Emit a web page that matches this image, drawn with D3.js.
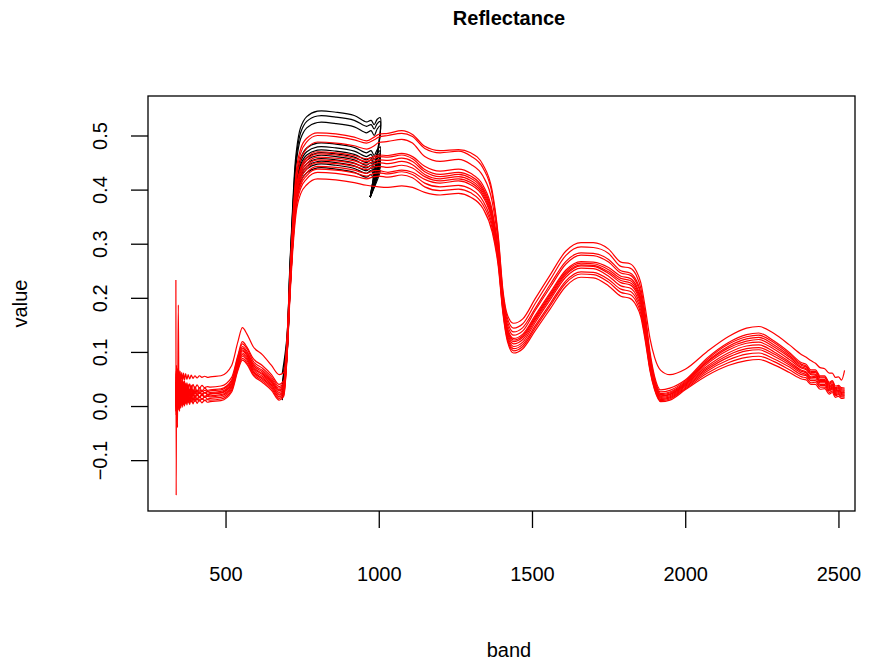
<!DOCTYPE html>
<html>
<head>
<meta charset="utf-8">
<script src="https://cdn.jsdelivr.net/npm/d3@7"></script>
<style>
  body { margin: 0; background: #fff; }
  svg text { font-family: "Liberation Sans", Arial, Helvetica, sans-serif; fill: #000; }
</style>
</head>
<body>
<div id="chart"></div>
<script>
// wavelengths (nm) shared by the corrected (red) spectra
const bands = [338,339,340,341,342,343,344,346,348,350,352,354,357,360,363,366,370,374,378,383,388,394,400,407,415,423,432,441,450,
  485,520,540,555,570,590,620,650,675,690,700,710,720,730,745,765,800,860,920,960,985,1000,
  1030,1075,1110,1150,1200,1260,1300,1340,1370,1390,1405,1420,1440,1470,1510,1560,1610,1660,1700,1750,1790,1820,1840,1855,1870,1885,1900,1920,1950,2000,
  2070,2140,2200,2240,2290,2340,2380,2395,2410,2425,2440,2455,2470,2480,2490,2500,2510,2520];

// corrected spectra (red)
const r1 = [0.06,0.04,0.075,0.045,0.07,0.038,0.068,0.042,0.066,0.046,0.064,0.044,0.062,0.047,0.061,0.048,0.06,0.049,0.058,0.05,0.057,0.051,0.056,0.052,0.056,0.053,0.055,0.053,0.054,
  0.056,0.075,0.118,0.145,0.133,0.11,0.095,0.075,0.058,0.062,0.12,0.24,0.35,0.43,0.475,0.495,0.505,0.503,0.497,0.49,0.497,0.502,
  0.504,0.509,0.502,0.48,0.472,0.474,0.468,0.446,0.398,0.314,0.215,0.168,0.153,0.161,0.198,0.243,0.286,0.302,0.302,0.29,0.266,0.263,0.25,0.228,0.18,0.125,0.09,0.066,0.058,0.068,
  0.1,0.128,0.144,0.147,0.134,0.113,0.095,0.09,0.084,0.079,0.071,0.069,0.061,0.061,0.053,0.054,0.048,0.066];
const r2 = [0.015,0.065,0.01,0.063,0.017,0.067,0.015,0.057,0.019,0.055,0.021,0.051,0.024,0.048,0.026,0.046,0.028,0.043,0.03,0.041,0.031,0.04,0.032,0.039,0.033,0.038,0.034,0.036,0.035,
  0.037,0.053,0.093,0.119,0.109,0.088,0.075,0.058,0.04,0.047,0.11,0.235,0.345,0.42,0.467,0.488,0.5,0.498,0.492,0.486,0.492,0.497,
  0.5,0.504,0.498,0.476,0.468,0.471,0.462,0.44,0.392,0.31,0.21,0.162,0.144,0.152,0.189,0.234,0.278,0.294,0.293,0.282,0.258,0.255,0.242,0.218,0.168,0.1,0.055,0.03,0.033,0.048,
  0.088,0.117,0.132,0.135,0.12,0.099,0.08,0.077,0.067,0.067,0.056,0.056,0.044,0.047,0.037,0.038,0.034,0.033];
const r3 = [0.045,0.005,0.065,0.01,0.06,0.008,0.058,0.015,0.055,0.012,0.05,0.018,0.048,0.02,0.045,0.022,0.042,0.024,0.04,0.025,0.038,0.026,0.036,0.027,0.034,0.028,0.033,0.029,0.03,
  0.032,0.048,0.09,0.115,0.106,0.083,0.07,0.054,0.036,0.043,0.105,0.23,0.335,0.41,0.455,0.476,0.488,0.486,0.481,0.475,0.481,0.487,
  0.489,0.493,0.486,0.461,0.452,0.456,0.447,0.425,0.378,0.3,0.204,0.156,0.137,0.145,0.18,0.225,0.267,0.283,0.282,0.271,0.25,0.246,0.233,0.21,0.16,0.094,0.05,0.026,0.029,0.046,
  0.085,0.114,0.128,0.131,0.117,0.096,0.077,0.074,0.064,0.064,0.054,0.054,0.042,0.045,0.034,0.036,0.032,0.031];
const r4 = [0.233,-0.165,0.06,-0.01,0.055,-0.005,0.05,0.01,0.048,0.008,0.045,0.014,0.042,0.016,0.04,0.019,0.037,0.021,0.035,0.023,0.033,0.024,0.031,0.025,0.03,0.026,0.029,0.027,0.028,
  0.03,0.046,0.086,0.11,0.101,0.079,0.066,0.05,0.033,0.04,0.1,0.225,0.325,0.398,0.44,0.459,0.47,0.468,0.463,0.457,0.461,0.464,
  0.463,0.467,0.461,0.443,0.434,0.438,0.43,0.408,0.362,0.289,0.196,0.15,0.131,0.139,0.176,0.22,0.262,0.279,0.278,0.266,0.246,0.242,0.229,0.206,0.156,0.09,0.047,0.023,0.026,0.044,
  0.082,0.11,0.124,0.127,0.113,0.093,0.075,0.072,0.062,0.062,0.052,0.052,0.04,0.043,0.032,0.034,0.03,0.029];
const r5 = [0.005,0.055,0.0,0.053,0.007,0.057,0.005,0.047,0.009,0.045,0.011,0.041,0.014,0.038,0.016,0.036,0.018,0.033,0.02,0.031,0.021,0.03,0.022,0.029,0.023,0.028,0.024,0.026,0.025,
  0.027,0.043,0.084,0.107,0.098,0.076,0.063,0.047,0.03,0.037,0.098,0.222,0.322,0.394,0.435,0.454,0.466,0.464,0.458,0.452,0.457,0.461,
  0.46,0.464,0.457,0.437,0.428,0.432,0.425,0.403,0.357,0.285,0.192,0.144,0.125,0.133,0.167,0.21,0.251,0.267,0.266,0.256,0.24,0.236,0.223,0.2,0.15,0.086,0.044,0.021,0.024,0.042,
  0.08,0.107,0.12,0.123,0.109,0.09,0.072,0.069,0.06,0.059,0.049,0.049,0.038,0.04,0.03,0.032,0.028,0.027];
const r6 = [0.04,0.0,0.058,-0.03,0.05,-0.04,0.045,0.005,0.044,0.006,0.04,0.012,0.038,0.013,0.036,0.016,0.033,0.018,0.031,0.019,0.029,0.02,0.028,0.021,0.026,0.022,0.025,0.022,0.023,
  0.025,0.041,0.081,0.104,0.095,0.073,0.06,0.045,0.028,0.035,0.096,0.22,0.32,0.39,0.43,0.448,0.46,0.458,0.453,0.447,0.452,0.455,
  0.454,0.458,0.452,0.433,0.424,0.428,0.421,0.399,0.353,0.282,0.19,0.141,0.122,0.13,0.164,0.207,0.248,0.264,0.263,0.252,0.236,0.232,0.219,0.196,0.146,0.083,0.042,0.019,0.022,0.04,
  0.077,0.103,0.116,0.118,0.105,0.086,0.07,0.067,0.058,0.057,0.047,0.047,0.036,0.038,0.028,0.03,0.026,0.025];
const r7 = [0.037,-0.003,0.057,0.002,0.052,0.0,0.05,0.007,0.047,0.004,0.042,0.01,0.04,0.012,0.037,0.014,0.034,0.016,0.032,0.017,0.03,0.018,0.028,0.019,0.026,0.02,0.025,0.021,0.022,
  0.024,0.04,0.079,0.102,0.093,0.071,0.058,0.043,0.025,0.032,0.094,0.217,0.317,0.385,0.425,0.443,0.455,0.453,0.448,0.442,0.447,0.45,
  0.448,0.452,0.446,0.428,0.42,0.424,0.417,0.395,0.349,0.279,0.188,0.139,0.119,0.127,0.161,0.204,0.245,0.261,0.26,0.248,0.232,0.228,0.215,0.192,0.142,0.08,0.04,0.018,0.021,0.04,
  0.073,0.098,0.111,0.113,0.1,0.082,0.066,0.063,0.054,0.055,0.045,0.045,0.034,0.037,0.027,0.029,0.025,0.024];
const r8 = [-0.001,0.049,-0.006,0.047,0.001,0.051,-0.001,0.041,0.003,0.039,0.005,0.035,0.008,0.032,0.01,0.03,0.012,0.027,0.014,0.025,0.015,0.024,0.016,0.023,0.017,0.022,0.018,0.02,0.019,
  0.021,0.037,0.076,0.098,0.09,0.068,0.055,0.04,0.022,0.029,0.092,0.214,0.313,0.38,0.42,0.438,0.45,0.448,0.443,0.437,0.442,0.443,
  0.441,0.445,0.44,0.424,0.416,0.42,0.413,0.391,0.345,0.276,0.186,0.135,0.115,0.123,0.158,0.201,0.242,0.259,0.258,0.245,0.228,0.224,0.211,0.188,0.138,0.077,0.038,0.016,0.019,0.038,
  0.07,0.094,0.106,0.108,0.096,0.079,0.064,0.061,0.052,0.053,0.043,0.043,0.032,0.035,0.025,0.027,0.023,0.022];
const r9 = [0.035,-0.005,0.045,0.0,0.04,-0.006,0.03,0.187,0.0,0.04,0.005,0.035,0.007,0.032,0.009,0.029,0.011,0.027,0.012,0.025,0.013,0.023,0.014,0.021,0.015,0.02,0.016,0.018,0.017,
  0.019,0.035,0.074,0.095,0.087,0.065,0.052,0.038,0.02,0.027,0.09,0.21,0.308,0.374,0.413,0.431,0.443,0.441,0.436,0.43,0.435,0.435,
  0.432,0.436,0.432,0.419,0.412,0.416,0.409,0.387,0.342,0.273,0.183,0.131,0.11,0.118,0.154,0.197,0.238,0.255,0.254,0.24,0.222,0.218,0.205,0.183,0.134,0.074,0.036,0.014,0.017,0.036,
  0.067,0.09,0.102,0.104,0.092,0.076,0.061,0.058,0.05,0.05,0.04,0.04,0.03,0.033,0.023,0.025,0.021,0.02];
const r10 = [0.029,-0.011,0.049,-0.006,0.044,-0.008,0.042,-0.001,0.039,-0.004,0.034,0.002,0.032,0.004,0.029,0.006,0.026,0.008,0.024,0.009,0.022,0.01,0.02,0.011,0.018,0.012,0.017,0.013,0.014,
  0.016,0.032,0.071,0.092,0.084,0.063,0.05,0.035,0.017,0.024,0.088,0.207,0.304,0.369,0.408,0.426,0.438,0.436,0.431,0.425,0.43,0.431,
  0.429,0.433,0.428,0.412,0.405,0.408,0.401,0.379,0.335,0.268,0.179,0.127,0.106,0.114,0.148,0.19,0.231,0.248,0.247,0.234,0.216,0.212,0.199,0.177,0.129,0.071,0.034,0.012,0.015,0.034,
  0.064,0.085,0.096,0.098,0.087,0.072,0.058,0.056,0.047,0.047,0.038,0.038,0.028,0.031,0.021,0.023,0.019,0.019];
const r11 = [-0.009,0.041,-0.014,0.039,-0.007,0.043,-0.009,0.033,-0.005,0.031,-0.003,0.027,0.0,0.024,0.002,0.022,0.004,0.019,0.006,0.017,0.007,0.016,0.008,0.015,0.009,0.014,0.01,0.012,0.011,
  0.013,0.029,0.068,0.088,0.08,0.06,0.047,0.032,0.014,0.021,0.086,0.204,0.3,0.364,0.402,0.42,0.432,0.43,0.425,0.42,0.424,0.425,
  0.423,0.427,0.422,0.405,0.398,0.401,0.394,0.372,0.329,0.263,0.176,0.123,0.102,0.11,0.144,0.186,0.227,0.244,0.243,0.229,0.21,0.206,0.193,0.171,0.124,0.068,0.032,0.01,0.013,0.032,
  0.06,0.08,0.09,0.092,0.082,0.067,0.054,0.052,0.043,0.044,0.035,0.035,0.025,0.028,0.019,0.021,0.017,0.017];
const r12 = [0.023,-0.017,0.043,-0.012,0.038,-0.014,0.036,-0.007,0.033,-0.01,0.028,-0.004,0.026,-0.002,0.023,0.0,0.02,0.002,0.018,0.003,0.016,0.004,0.014,0.005,0.012,0.006,0.011,0.007,0.008,
  0.01,0.026,0.065,0.085,0.077,0.057,0.044,0.029,0.011,0.018,0.083,0.198,0.292,0.355,0.392,0.409,0.42,0.418,0.413,0.408,0.406,0.405,
  0.404,0.407,0.404,0.395,0.39,0.393,0.386,0.365,0.322,0.258,0.172,0.119,0.098,0.106,0.139,0.18,0.221,0.238,0.237,0.222,0.203,0.199,0.186,0.165,0.119,0.065,0.03,0.008,0.011,0.03,
  0.056,0.075,0.084,0.086,0.076,0.062,0.05,0.048,0.04,0.04,0.031,0.032,0.022,0.025,0.016,0.018,0.014,0.015];

// original VNIR spectra (black), before the detector-join correction
const rawBands = [685,700,710,720,730,745,765,800,860,920,960,975,985,995,1005,972];
const k1 = [0.06,0.125,0.26,0.38,0.465,0.515,0.535,0.545,0.543,0.537,0.525,0.528,0.52,0.53,0.533,0.386];
const k2 = [0.04,0.12,0.255,0.372,0.455,0.505,0.526,0.536,0.534,0.528,0.517,0.52,0.512,0.522,0.526,0.386];
const k3 = [0.036,0.115,0.25,0.365,0.445,0.494,0.514,0.524,0.522,0.516,0.505,0.509,0.5,0.512,0.518,0.386];
const k4 = [0.033,0.108,0.232,0.338,0.413,0.458,0.477,0.486,0.484,0.478,0.468,0.472,0.463,0.474,0.479,0.386];
const k5 = [0.03,0.105,0.228,0.333,0.407,0.452,0.47,0.479,0.477,0.471,0.461,0.465,0.456,0.467,0.472,0.386];
const k6 = [0.028,0.103,0.225,0.328,0.402,0.446,0.464,0.473,0.471,0.465,0.455,0.459,0.45,0.462,0.466,0.386];
const k7 = [0.025,0.1,0.222,0.325,0.398,0.441,0.459,0.468,0.466,0.46,0.45,0.455,0.446,0.457,0.462,0.386];
const k8 = [0.022,0.097,0.219,0.321,0.393,0.436,0.454,0.463,0.461,0.455,0.445,0.45,0.441,0.452,0.457,0.386];
const k9 = [0.02,0.095,0.216,0.317,0.388,0.431,0.448,0.457,0.455,0.449,0.44,0.445,0.436,0.447,0.452,0.386];
const k10 = [0.017,0.092,0.213,0.313,0.384,0.426,0.443,0.452,0.45,0.444,0.435,0.44,0.431,0.442,0.447,0.386];
const k11 = [0.014,0.09,0.21,0.31,0.38,0.421,0.438,0.447,0.445,0.439,0.43,0.435,0.426,0.437,0.442,0.386];
const k12 = [0.011,0.087,0.206,0.305,0.374,0.415,0.431,0.44,0.438,0.432,0.423,0.428,0.419,0.43,0.435,0.386];

const xTicks = [500, 1000, 1500, 2000, 2500];
const yTicks = [-0.1, 0, 0.1, 0.2, 0.3, 0.4, 0.5];

const redSeries = [r1, r2, r3, r4, r5, r6, r7, r8, r9, r10, r11, r12];
const blackSeries = [k1, k2, k3, k4, k5, k6, k7, k8, k9, k10, k11, k12];

const width = 870, height = 666;
const plot = {left: 148, right: 855, top: 96, bottom: 511};

const svg = d3.select('#chart').append('svg')
    .attr('width', width).attr('height', height);

const x = d3.scaleLinear().domain([247, 2554]).range([plot.left, plot.right]);
const y = d3.scaleLinear().domain([-0.194, 0.573]).range([plot.bottom, plot.top]);

const lines = svg.append('g');

// black first, red drawn over it
const blackLine = d3.line()
    .x((d, i) => x(rawBands[i]))
    .y((d) => y(d))
    .curve(d3.curveCatmullRom.alpha(0.5));

lines.selectAll('path.raw')
    .data(blackSeries).enter()
    .append('path')
    .attr('class', 'raw')
    .attr('d', blackLine)
    .attr('fill', 'none')
    .attr('stroke', '#000')
    .attr('stroke-width', 1.2);

const redLine = d3.line()
    .x((d, i) => x(bands[i]))
    .y((d) => y(d))
    .curve(d3.curveMonotoneX);

lines.selectAll('path.cor')
    .data(redSeries).enter()
    .append('path')
    .attr('class', 'cor')
    .attr('d', redLine)
    .attr('fill', 'none')
    .attr('stroke', '#ff0000')
    .attr('stroke-width', 1.2);

// box
svg.append('rect')
    .attr('x', plot.left).attr('y', plot.top)
    .attr('width', plot.right - plot.left).attr('height', plot.bottom - plot.top)
    .attr('fill', 'none').attr('stroke', '#000').attr('stroke-width', 1.3);

// axes, R style
const xAxis = svg.append('g')
    .attr('transform', `translate(0,${plot.bottom})`)
    .call(d3.axisBottom(x).tickValues(xTicks).tickSize(17).tickPadding(39).tickFormat(d3.format('d')));
xAxis.select('.domain').remove();
xAxis.selectAll('line').attr('stroke-width', 1.3);
xAxis.selectAll('text').attr('font-size', 20).attr('font-family', null);

const yAxis = svg.append('g')
    .attr('transform', `translate(${plot.left},0)`)
    .call(d3.axisLeft(y).tickValues(yTicks).tickSize(17).tickFormat(d3.format('.1f')));
yAxis.select('.domain').remove();
yAxis.selectAll('line').attr('stroke-width', 1.3);
yAxis.selectAll('text')
    .attr('font-size', 20).attr('font-family', null)
    .attr('x', null).attr('dy', null)
    .attr('text-anchor', 'middle')
    .attr('dominant-baseline', 'central')
    .attr('transform', 'translate(-48,0) rotate(-90)')
    .text((d) => d3.format('.1f')(d).replace('-', '\u2212'));

// titles
svg.append('text')
    .attr('x', 509).attr('y', 18)
    .attr('text-anchor', 'middle').attr('dominant-baseline', 'central')
    .attr('font-size', 20).attr('font-weight', 'bold')
    .text('Reflectance');

svg.append('text')
    .attr('x', 509).attr('y', 650)
    .attr('text-anchor', 'middle').attr('dominant-baseline', 'central')
    .attr('font-size', 20)
    .text('band');

svg.append('text')
    .attr('transform', `translate(20,${(plot.top + plot.bottom) / 2}) rotate(-90)`)
    .attr('text-anchor', 'middle').attr('dominant-baseline', 'central')
    .attr('font-size', 20)
    .text('value');
</script>
</body>
</html>
